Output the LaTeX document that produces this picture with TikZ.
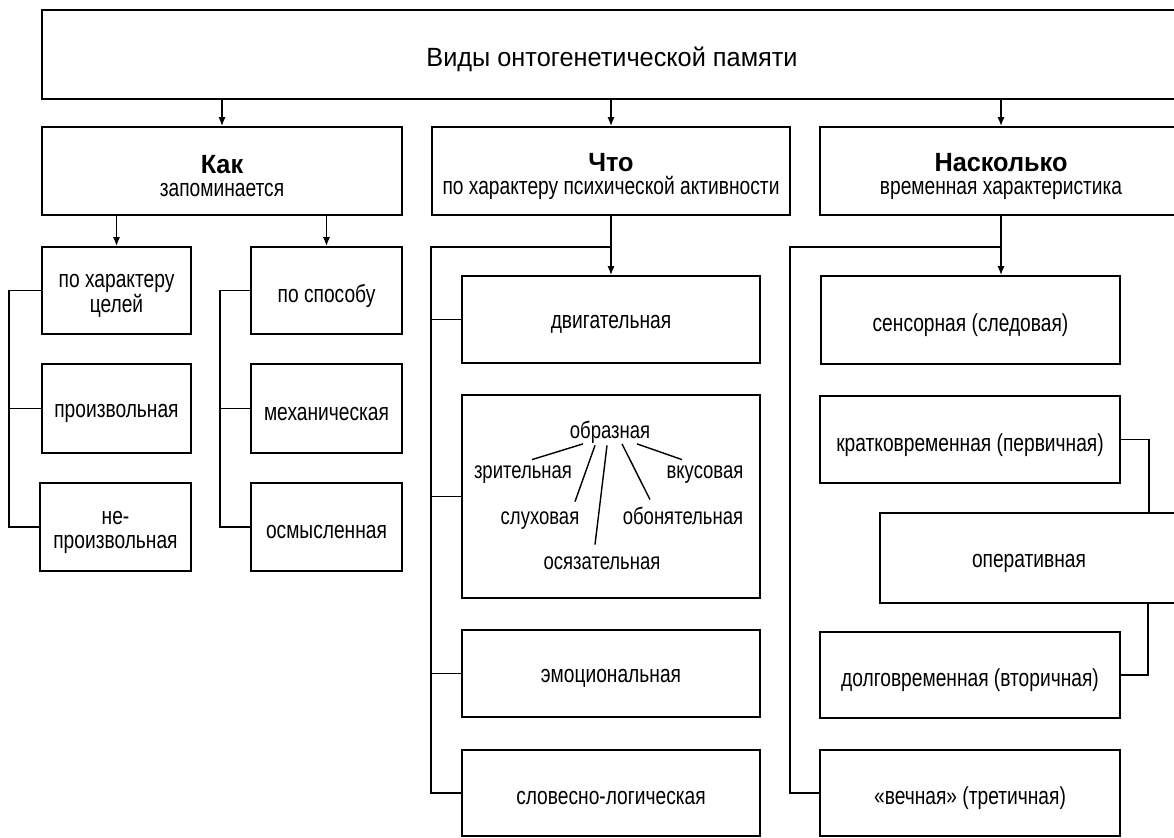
\documentclass[tikz,border=0pt]{standalone}
\usepackage{fontspec}
\setmainfont{Liberation Sans}[FakeStretch=0.78]
\newfontfamily\widefamily{Liberation Sans}[FakeStretch=0.96]
\usetikzlibrary{arrows.meta,fit,calc}

\newcommand\bodysize{\fontsize{14}{14}\selectfont}
\newcommand\headfont{\widefamily\bfseries\fontsize{15}{18}\selectfont}

\begin{document}
\begin{tikzpicture}[x=0.02cm, y=-0.02cm,
        box/.style={draw, line width=1.2pt, inner sep=0pt},
        boxtext/.style={align=center, font=\bodysize, yshift=-3pt},
        kind/.style={inner sep=1pt, text height=8pt, text depth=2pt, font=\fontsize{13.5}{15}\selectfont},
        link/.style={line width=1pt},
        arr/.style={line width=0.7pt, -{Latex[length=5pt,width=4pt]}}]
    \useasboundingbox (0,0) rectangle (1174,838);
    \clip (0,0) rectangle (1174,838);

    \node[box, fit={(42,10) (1182,99)}, label={[boxtext, font=\widefamily\fontsize{15}{18}\selectfont]center:Виды онтогенетической памяти}] (vidy) {};

    \node[box, fit={(42,127) (402,215)}, label={[boxtext]center:{{\headfont Как}\\[-1pt]запоминается}}] (kak) {};
    \node[box, fit={(432,127) (790,215)}, label={[boxtext]center:{{\headfont Что}\\[-1pt]по характеру психической активности}}] (chto) {};
    \node[box, fit={(820,127) (1182,215)}, label={[boxtext]center:{{\headfont Насколько}\\[-1pt]временная характеристика}}] (nask) {};

    % как запоминается
    \node[box, fit={(42,247) (191,334)}, label={[boxtext]center:{по характеру\\целей}}] (tsel) {};
    \node[box, fit={(42,364) (191,453)}, label={[boxtext]center:произвольная}] (proizv) {};
    \node[box, fit={(40,483) (191,571)}, label={[boxtext]center:{не-\\произвольная}}] (neproizv) {};
    \node[box, fit={(251,247) (402,334)}, label={[boxtext]center:по способу}] (sposob) {};
    \node[box, fit={(251,364) (402,453)}, label={[boxtext]center:механическая}] (mekh) {};
    \node[box, fit={(251,483) (402,571)}, label={[boxtext]center:осмысленная}] (osmysl) {};

    % что
    \node[box, fit={(462,276) (760,363)}, label={[boxtext]center:двигательная}] (dvig) {};
    \node[box, fit={(462,395) (760,598)}] (obrazbox) {};
    \node[box, fit={(462,630) (760,717)}, label={[boxtext]center:эмоциональная}] (emots) {};
    \node[box, fit={(462,750) (760,836)}, label={[boxtext]center:словесно-логическая}] (slov) {};

    \node[kind] (obraz) at (610,433) {образная};
    \node[kind] (zrit) at (523,473) {зрительная};
    \node[kind] (vkus) at (705,473) {вкусовая};
    \node[kind] (sluh) at (540,519) {слуховая};
    \node[kind] (obon) at (683,519) {обонятельная};
    \node[kind] (osyaz) at (602,564) {осязательная};

    % насколько
    \node[box, fit={(821,276) (1120,364)}, label={[boxtext]center:сенсорная (следовая)}] (sens) {};
    \node[box, fit={(820,396) (1120,483)}, label={[boxtext]center:кратковременная (первичная)}] (krat) {};
    \node[box, fit={(880,513) (1178,603)}, label={[boxtext]center:оперативная}] (oper) {};
    \node[box, fit={(820,632) (1120,718)}, label={[boxtext]center:долговременная (вторичная)}] (dolg) {};
    \node[box, fit={(820,750) (1120,836)}, label={[boxtext]center:«вечная» (третичная)}] (vechn) {};

    \draw[arr] (vidy.south -| kak.north) -- (kak.north);
    \draw[arr] (vidy.south -| chto.north) -- (chto.north);
    \draw[arr] (vidy.south -| nask.north) -- (nask.north);

    \draw[arr] (kak.south -| tsel.north) -- (tsel.north);
    \draw[arr] (kak.south -| sposob.north) -- (sposob.north);
    \draw[link] (tsel.west) -- ++(-32,0) |- (neproizv.west);
    \draw[link] (proizv.west) -- ++(-32,0);
    \draw[link] (sposob.west) -- ++(-30,0) |- (osmysl.west);
    \draw[link] (mekh.west) -- ++(-30,0);

    \coordinate (chtofork) at (chto.south |- 0,247);
    \draw[arr] (chto.south) -- (dvig.north);
    \draw[link] (chtofork) -- ++(-180,0) |- (slov.west);
    \draw[link] (dvig.west) -- ++(-30,0);
    \draw[link] (obrazbox.west) -- ++(-30,0);
    \draw[link] (emots.west) -- ++(-30,0);

    \draw[line width=0.8pt]
        ($(obraz.south)+(-27,0)$) -- ($(zrit.north)+(9,-2.5)$)
        ($(obraz.south)+(-15,1.5)$) -- ($(sluh.north)+(35,-6.5)$)
        ($(obraz.south)+(-3,1.5)$) -- ($(osyaz.north)+(-7,-8.5)$)
        ($(obraz.south)+(12,0)$) -- ($(obon.north)+(-33,-8.5)$)
        ($(obraz.south)+(27,0)$) -- ($(vkus.north)+(-23,-2.5)$);

    \coordinate (naskfork) at (nask.south |- 0,247);
    \draw[arr] (nask.south) -- (nask.south |- sens.north);
    \draw[link] (naskfork) -- ++(-211,0) |- (vechn.west);
    \draw[link] (krat.east) -| (oper.north -| 1149,0);
    \draw[link] (dolg.east) -| (oper.south -| 1148,0);
\end{tikzpicture}
\end{document}
